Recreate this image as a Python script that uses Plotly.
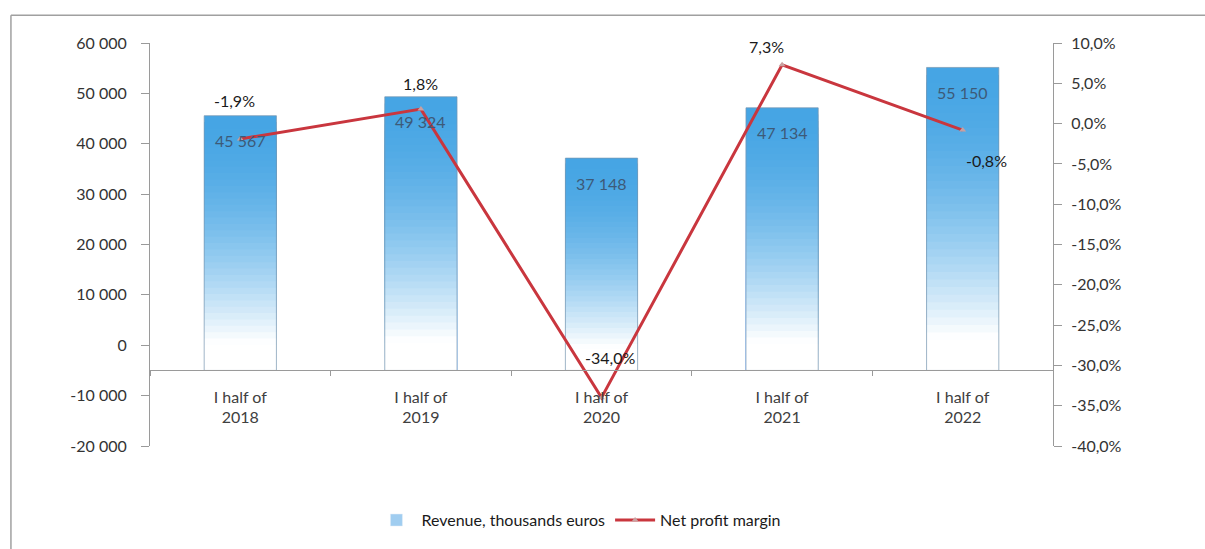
import plotly.graph_objects as go

categories = ["I half of<br>2018", "I half of<br>2019", "I half of<br>2020", "I half of<br>2021", "I half of<br>2022"]
revenue = [45567, 49324, 37148, 47134, 55150]
revenue_labels = ["45 567", "49 324", "37 148", "47 134", "55 150"]
margin_pct = [-1.9, 1.8, -34.0, 7.3, -0.8]
margin_labels = ["-1,9%", "1,8%", "-34,0%", "7,3%", "-0,8%"]
y1_ticks = [-20000, -10000, 0, 10000, 20000, 30000, 40000, 50000, 60000]
y1_ticklabels = ["-20 000", "-10 000", "0", "10 000", "20 000", "30 000", "40 000", "50 000", "60 000"]
y2_ticks = [-40, -35, -30, -25, -20, -15, -10, -5, 0, 5, 10]
y2_ticklabels = ["-40,0%", "-35,0%", "-30,0%", "-25,0%", "-20,0%", "-15,0%", "-10,0%",
                 "-5,0%", "0,0%", "5,0%", "10,0%"]

# style
BASE = -5000
Y1_RANGE = [-20000, 60000]
Y2_RANGE = [-40, 10]
FONT = "Lato"
TOP_RGB = (70, 165, 228)
N_LAYERS = 40
label_shift_x = [-6, 0, 8, -16, 24]
label_shift_y = [38, 26, 40, 18, -30]

fig = go.Figure()

# gradient bars built as overlaid layers from the base
for k in range(N_LAYERS):
    f = 1 - k / N_LAYERS
    t = min(1.0, (1 - f) / 0.88) ** 1.8
    rgb = tuple(int(round(c + (255 - c) * t)) for c in TOP_RGB)
    fig.add_trace(go.Bar(
        x=categories, y=[(v - BASE) * f for v in revenue], base=BASE,
        marker=dict(color="rgb(%d,%d,%d)" % rgb, line=dict(width=0)),
        width=0.4, showlegend=False, hoverinfo="skip",
    ))

# outline
fig.add_trace(go.Bar(
    x=categories, y=[v - BASE for v in revenue], base=BASE,
    name="Revenue, thousands euros",
    marker=dict(color="rgba(0,0,0,0)", line=dict(color="rgba(120,150,175,0.7)", width=1)),
    width=0.4, showlegend=False,
))
# legend entry
fig.add_trace(go.Bar(
    x=[None], y=[None], name="Revenue, thousands euros",
    marker=dict(color="rgb(160,205,240)"), showlegend=True,
))

fig.add_trace(go.Scatter(
    x=categories, y=margin_pct, yaxis="y2", name="Net profit margin",
    mode="lines+markers",
    line=dict(color="#c9363e", width=3),
    marker=dict(symbol="triangle-up", size=6, color="#c9a0a0"),
))

annotations = []
for c, v, lab in zip(categories, revenue, revenue_labels):
    annotations.append(dict(x=c, y=v, xref="x", yref="y", text=lab, showarrow=False,
                            yshift=-25, font=dict(family=FONT, size=16, color="#3d5a78")))
for c, v, lab, dx, dy in zip(categories, margin_pct, margin_labels, label_shift_x, label_shift_y):
    annotations.append(dict(x=c, y=v, xref="x", yref="y2", text=lab, showarrow=False,
                            xshift=dx, yshift=dy, font=dict(family=FONT, size=16, color="#1a1a1a")))

axis_pos = (BASE - Y1_RANGE[0]) / (Y1_RANGE[1] - Y1_RANGE[0])

fig.update_layout(
    width=1205, height=549,
    margin=dict(l=150, r=152, t=43, b=99),
    paper_bgcolor="white", plot_bgcolor="white",
    barmode="overlay",
    separators=", ",
    font=dict(family=FONT, size=16, color="#404040"),
    xaxis=dict(anchor="free", position=axis_pos, showline=True, linecolor="#9a9a9a",
               ticks="outside", tickson="boundaries", ticklen=5, tickcolor="#9a9a9a",
               ticklabelstandoff=12,
               showgrid=False, tickfont=dict(size=16, color="#404040")),
    yaxis=dict(range=Y1_RANGE, tickvals=y1_ticks, ticktext=y1_ticklabels, showgrid=False,
               zeroline=False, showline=True, linecolor="#9a9a9a", ticks="outside", ticklen=8,
               ticklabelstandoff=11,
               tickcolor="#9a9a9a", tickfont=dict(size=16, color="#333333")),
    yaxis2=dict(range=Y2_RANGE, tickvals=y2_ticks, ticktext=y2_ticklabels, overlaying="y",
                side="right", showgrid=False, zeroline=False, showline=True,
                linecolor="#9a9a9a", ticks="outside", ticklen=8, tickcolor="#9a9a9a",
                ticklabelstandoff=6,
                tickfont=dict(size=16, color="#333333")),
    legend=dict(orientation="h", x=0.475, xanchor="center", y=-0.184, yanchor="middle",
                font=dict(family=FONT, size=16, color="#1a1a1a"), traceorder="normal",
                itemwidth=40),
    annotations=annotations,
    shapes=[
        dict(type="line", xref="paper", yref="paper", x0=-0.154, x1=1.17,
             y0=1.069, y1=1.069, line=dict(color="#a0a0a0", width=1.5)),
        dict(type="line", xref="paper", yref="paper", x0=-0.154, x1=-0.154,
             y0=1.069, y1=-0.3, line=dict(color="#a0a0a0", width=1.5)),
    ],
)

fig.write_html("out.html")
